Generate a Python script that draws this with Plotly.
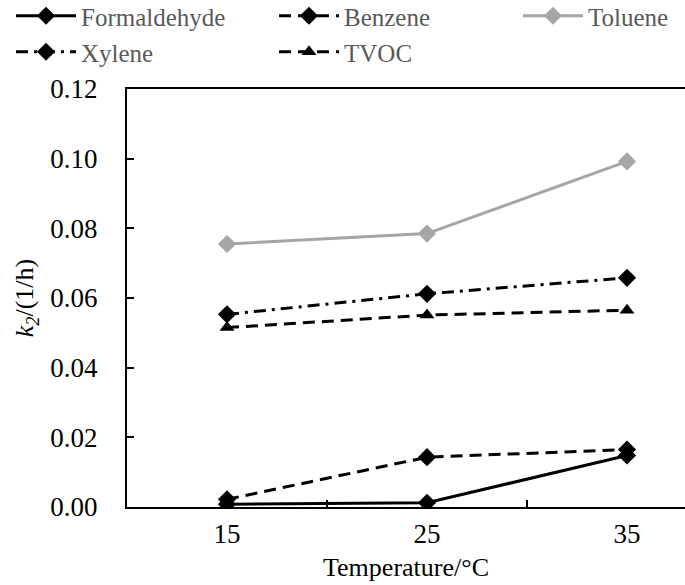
import plotly.graph_objects as go

temps = ["15", "25", "35"]
formaldehyde = [0.0008, 0.0012, 0.0148]
benzene = [0.0022, 0.0143, 0.0165]
toluene = [0.0755, 0.0785, 0.0992]
xylene = [0.0553, 0.0612, 0.0658]
tvoc = [0.0515, 0.0551, 0.0565]

x_pos = list(range(len(temps)))
serif = "Liberation Serif"
W, H = 685, 585
L, R, T, B = 127, 0, 89, 78
plot_w, plot_h = W - L - R, H - T - B

# name, values, colour, dash, marker, legend slot (left px, top px)
series = [
    ("Formaldehyde", formaldehyde, "black", "solid", "diamond", (11, -7)),
    ("Benzene", benzene, "black", "12px,7px", "diamond", (274, -7)),
    ("Toluene", toluene, "#a6a6a6", "solid", "diamond", (518, -7)),
    ("Xylene", xylene, "black", "12px,6px,3px,6px", "diamond", (11, 29)),
    ("TVOC", tvoc, "black", "12px,7px", "triangle-up", (274, 29)),
]

fig = go.Figure()
legends = {}
for i, (name, vals, color, dash, symbol, (lx, ly)) in enumerate(series):
    key = "legend" if i == 0 else f"legend{i + 1}"
    fig.add_trace(go.Scatter(
        x=x_pos, y=vals, name=name, mode="lines+markers", legend=key,
        showlegend=True,
        line=dict(color=color, width=3, dash=dash),
        marker=dict(symbol=symbol, size=14 if symbol == "diamond" else 13, color=color),
    ))
    legends[key] = dict(
        xref="paper", yref="paper",
        x=(lx - L) / plot_w, y=(H - B - ly) / plot_h,
        xanchor="left", yanchor="top",
        itemwidth=60, bgcolor="rgba(0,0,0,0)",
        font=dict(family=serif, size=25, color="#595959"),
    )

fig.update_layout(
    width=W, height=H, showlegend=True,
    margin=dict(l=L, r=R, t=T, b=B, autoexpand=False),
    paper_bgcolor="white", plot_bgcolor="white",
    font=dict(family=serif, size=26, color="black"),
    xaxis=dict(
        range=[-0.5, 2.29], tickmode="array", tickvals=x_pos, ticktext=temps,
        ticks="", showgrid=False, zeroline=False, ticklabelstandoff=2,
        showline=True, linecolor="black", linewidth=2, mirror=True,
        minor=dict(tickmode="array", tickvals=[0.5, 1.5], ticks="inside",
                   ticklen=7, tickwidth=1.5, tickcolor="black", showgrid=False),
        title=dict(text="Temperature/°C", standoff=9,
                   font=dict(family=serif, size=26)),
        tickfont=dict(family=serif, size=27),
    ),
    yaxis=dict(
        range=[0, 0.12], dtick=0.02, tickformat=".2f",
        ticks="inside", ticklen=7, tickwidth=1.5, tickcolor="black",
        showgrid=False, zeroline=False, ticklabelstandoff=22,
        showline=True, linecolor="black", linewidth=2,
        title=dict(text="<i>k</i><sub><i>2</i></sub>/(1/h)", standoff=9,
                   font=dict(family=serif, size=26)),
        tickfont=dict(family=serif, size=27),
    ),
    **legends,
)

fig.write_html("out.html")
